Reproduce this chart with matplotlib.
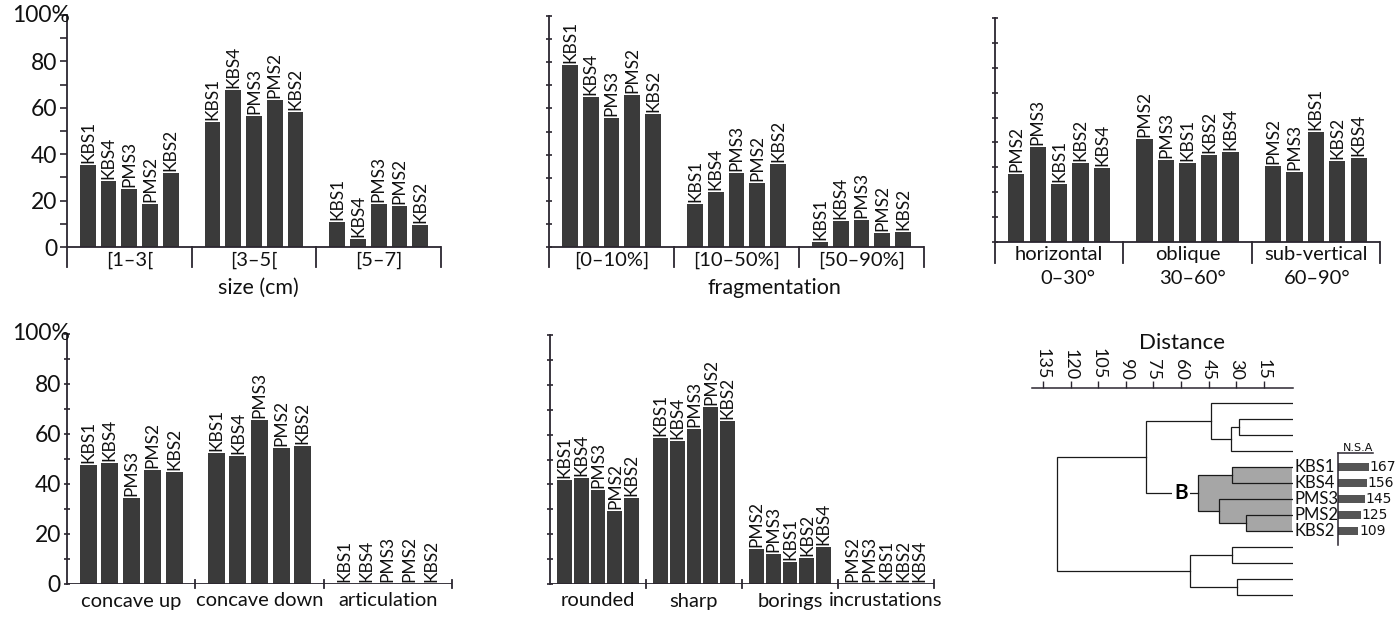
import numpy as np
import matplotlib.pyplot as plt
from matplotlib.patches import Rectangle

plt.rcParams['font.family'] = ['Lato', 'DejaVu Sans']

W, H = 1397, 617
INK = '#2b2630'
BAR = '#3a3a3a'

# ---- data -------------------------------------------------------------
size_groups = ['[1–3[', '[3–5[', '[5–7]']
size_names = ['KBS1', 'KBS4', 'PMS3', 'PMS2', 'KBS2']
size_vals = [[35.3, 28.5, 25.0, 18.7, 31.8],
             [53.7, 67.6, 56.3, 63.3, 58.0],
             [10.9, 3.3, 18.4, 17.6, 9.6]]

frag_groups = ['[0–10%]', '[10–50%]', '[50–90%]']
frag_names = ['KBS1', 'KBS4', 'PMS3', 'PMS2', 'KBS2']
frag_vals = [[79.0, 65.0, 55.7, 65.6, 57.7],
             [18.8, 23.7, 32.2, 27.8, 35.8],
             [2.2, 11.4, 11.7, 6.0, 6.3]]

dip_groups = ['horizontal', 'oblique', 'sub-vertical']
dip_ranges = ['0–30°', '30–60°', '60–90°']
dip_names = ['PMS2', 'PMS3', 'KBS1', 'KBS2', 'KBS4']
dip_vals = [[27.4, 38.2, 23.4, 31.7, 29.7],
            [41.4, 32.8, 31.7, 35.1, 36.0],
            [30.4, 28.2, 44.0, 32.5, 33.6]]

shape_groups = ['concave up', 'concave down', 'articulation']
shape_names = ['KBS1', 'KBS4', 'PMS3', 'PMS2', 'KBS2']
shape_vals = [[47.6, 48.5, 34.3, 45.6, 44.7],
              [52.5, 51.3, 65.6, 54.4, 55.3],
              [0, 0, 0, 0, 0]]

edge_groups = ['rounded', 'sharp', 'borings', 'incrustations']
edge_names = [['KBS1', 'KBS4', 'PMS3', 'PMS2', 'KBS2'],
              ['KBS1', 'KBS4', 'PMS3', 'PMS2', 'KBS2'],
              ['PMS2', 'PMS3', 'KBS1', 'KBS2', 'KBS4'],
              ['PMS2', 'PMS3', 'KBS1', 'KBS2', 'KBS4']]
edge_vals = [[41.6, 42.7, 37.6, 29.2, 34.7],
             [58.6, 57.6, 62.4, 70.9, 65.3],
             [14.2, 11.9, 8.7, 10.6, 14.7],
             [0, 0, 0, 0, 0]]

# dendrogram: leaves 0..12 top to bottom, merges (child a, child b, distance)
leaf_names = ['', '', '', '', 'KBS1', 'KBS4', 'PMS3', 'PMS2', 'KBS2', '', '', '', '']
merges = [(1, 2, 28.4), (13, 3, 33.1), (0, 14, 43.9),
          (4, 5, 32.5), (7, 8, 24.8), (6, 17, 39.4), (16, 18, 50.6),
          (15, 19, 79.2), (9, 10, 32.5), (11, 12, 29.8), (21, 22, 55.2),
          (20, 23, 127.5)]
cluster_b = 19
dist_ticks = [135, 120, 105, 90, 75, 60, 45, 30, 15]

nsa_names = ['KBS1', 'KBS4', 'PMS3', 'PMS2', 'KBS2']
nsa_vals = [167, 156, 145, 125, 109]

# ---- layout helpers -----------------------------------------------------
fig = plt.figure(figsize=(W / 100, H / 100), dpi=100)

TICK_FS = 16.5
CAT_FS = 14.5
BAR_FS = 12.5


def px_axes(left, top, right, bottom):
    return fig.add_axes([left / W, 1 - bottom / H, (right - left) / W, (bottom - top) / H])


def bar_panel(left, right, top, zero, ymax, ext, groups, names, vals, pitch, width,
              ticklabels=False, tickdir='out', lab_off=14, sep=(20, 0)):
    ppu = (zero - top) / ymax
    ax = px_axes(left, top, right, zero + ext)
    n = len(groups)
    ax.set_xlim(-0.5, n - 0.5)
    ax.set_ylim(-ext / ppu, ymax)
    for s in ['top', 'right', 'bottom']:
        ax.spines[s].set_visible(False)
    ax.spines['left'].set_color(INK)
    ax.spines['left'].set_linewidth(1.3)
    ax.axhline(0, color=INK, lw=1.3)
    for g in range(1, n + 1):
        ax.plot([g - 0.5] * 2, [-sep[0] / ppu, sep[1] / ppu], color=INK, lw=1.3,
                clip_on=False)
    ax.set_xticks([])
    ax.set_yticks(np.arange(0, ymax + 1, 10))
    ax.tick_params(axis='y', direction=tickdir, length=5, width=1.2, color=INK,
                   labelsize=TICK_FS, pad=2, labelcolor='#111')
    if ticklabels:
        labs = [str(v) if v % 20 == 0 and v < 100 else '' for v in range(0, ymax + 1, 10)]
        ax.set_yticklabels(labs)
        ax.annotate('100%', (-0.5, 100), xytext=(3, 0), textcoords='offset pixels',
                    ha='right', va='center', fontsize=TICK_FS, color='#111',
                    annotation_clip=False)
    else:
        ax.set_yticklabels([])
    offs = (np.arange(5) - 2) * pitch
    for g in range(n):
        nm = names[g] if isinstance(names[g], list) else names
        ax.bar(g + offs, vals[g], width=width, color=BAR, edgecolor='none')
        for x, v, t in zip(g + offs, vals[g], nm):
            ax.annotate(t, (x, v), xytext=(0, 2), textcoords='offset pixels',
                        rotation=90, ha='center', va='bottom', fontsize=BAR_FS, color='#111')
        ax.annotate(groups[g], (g, 0), xytext=(0, -lab_off), textcoords='offset pixels',
                    ha='center', va='center', fontsize=CAT_FS, color='#111',
                    annotation_clip=False)
    return ax, ppu


def px_to_x(ax_left, ax_right, n, px):
    return (px - ax_left) / (ax_right - ax_left) * n - 0.5


# ---- top row -------------------------------------------------------------
ax1, _ = bar_panel(67, 441, 15, 247, 100, 20, size_groups, size_names, size_vals,
                   0.166, 0.126, ticklabels=True, tickdir='out', lab_off=13)
ax1.annotate('size (cm)', (px_to_x(67, 441, 3, 258), 0), xytext=(0, -41),
             textcoords='offset pixels', ha='center', va='center', fontsize=CAT_FS + 1,
             color='#111', annotation_clip=False)

ax2, _ = bar_panel(549, 924, 16, 247, 100, 20, frag_groups, frag_names, frag_vals,
                   0.166, 0.126, tickdir='inout', lab_off=13)
ax2.annotate('fragmentation', (px_to_x(549, 924, 3, 774), 0), xytext=(0, -41),
             textcoords='offset pixels', ha='center', va='center', fontsize=CAT_FS + 1,
             color='#111', annotation_clip=False)

ax3, _ = bar_panel(995, 1380, 18, 242, 90, 21, dip_groups, dip_names, dip_vals,
                   0.167, 0.127, tickdir='inout', lab_off=13, sep=(21, 0))
for px, t in zip([1068, 1193, 1317], dip_ranges):
    ax3.annotate(t, (px_to_x(995, 1380, 3, px), 0), xytext=(0, -37),
                 textcoords='offset pixels', ha='center', va='center', fontsize=CAT_FS,
                 color='#111', annotation_clip=False)

# ---- bottom row ----------------------------------------------------------
bar_panel(67, 452, 334, 584, 100, 0, shape_groups, shape_names, shape_vals,
          0.168, 0.133, ticklabels=True, tickdir='inout', lab_off=17, sep=(4, 4))
bar_panel(550, 934, 335, 584, 100, 0, edge_groups, edge_names, edge_vals,
          0.176, 0.156, tickdir='inout', lab_off=17, sep=(4, 4))

# ---- dendrogram ------------------------------------------------------------
ppd = 1.842
zero_px = 1291.6
axd = px_axes(1032, 388, 1293, 600)
axd.set_xlim((zero_px - 1032) / ppd, (zero_px - 1293) / ppd)
axd.set_ylim((600 - 403) / 16, -(403 - 388) / 16)
for s in ['right', 'bottom', 'left']:
    axd.spines[s].set_visible(False)
axd.spines['top'].set_color(INK)
axd.spines['top'].set_linewidth(1.1)
axd.xaxis.tick_top()
axd.set_xticks(dist_ticks)
axd.set_xticklabels([str(t) for t in dist_ticks], rotation=270)
axd.tick_params(axis='x', direction='out', length=5, width=1, color=INK,
                labelsize=13, pad=1, labelcolor='#111')
axd.set_yticks([])

n_leaves = len(leaf_names)
node_y = {i: float(i) for i in range(n_leaves)}
node_h = {i: 0.0 for i in range(n_leaves)}
children = {}
for k, (a, b, h) in enumerate(merges):
    nid = n_leaves + k
    children[nid] = (a, b)
    ya, yb = node_y[a], node_y[b]
    axd.plot([node_h[a], h, h, node_h[b]], [ya, ya, yb, yb], color='#1a1a1a', lw=0.9,
             zorder=3, solid_joinstyle='miter')
    node_y[nid] = (ya + yb) / 2
    node_h[nid] = h


def subtree(n):
    if n not in children:
        return []
    a, b = children[n]
    return [n] + subtree(a) + subtree(b)


for n in subtree(cluster_b):
    a, b = children[n]
    axd.add_patch(Rectangle((0, node_y[a]), node_h[n], node_y[b] - node_y[a],
                            facecolor='#a6a6a6', edgecolor='none', zorder=1))

for i, nm in enumerate(leaf_names):
    if nm:
        axd.annotate(nm, (0, i), xytext=(3, 0), textcoords='offset pixels',
                     ha='left', va='center', fontsize=12, color='#111',
                     annotation_clip=False)

b_parent = [n for n, c in children.items() if cluster_b in c][0]
axd.text((node_h[cluster_b] + node_h[b_parent]) / 2 - 5, node_y[cluster_b], 'B',
         fontsize=15, fontweight='bold', ha='center', va='center', zorder=4,
         bbox=dict(facecolor='white', edgecolor='none', pad=1.5))

fig.text(1182 / W, 1 - 343 / H, 'Distance', ha='center', va='center', fontsize=16,
         color='#111')

# ---- N.S.A bars ------------------------------------------------------------
narrow = ['Liberation Sans Narrow', 'DejaVu Sans']
nsa_ppu = 0.1833
axn = px_axes(1338, 453, 1373, 545)
axn.set_xlim(0, 35 / nsa_ppu)
axn.set_ylim(4.875, -0.875)
for s in ['right', 'bottom']:
    axn.spines[s].set_visible(False)
for s in ['top', 'left']:
    axn.spines[s].set_color(INK)
    axn.spines[s].set_linewidth(1.1)
axn.set_xticks([])
axn.set_yticks([])
axn.barh(np.arange(len(nsa_vals)), nsa_vals, height=0.45, color='#555555')
for k, v in enumerate(nsa_vals):
    axn.annotate(str(v), (v, k), xytext=(1, 0), textcoords='offset pixels',
                 ha='left', va='center', fontsize=10, family=narrow, color='#111',
                 annotation_clip=False)
axn.text(0.57, 1.0, 'N.S.A', transform=axn.transAxes, ha='center', va='bottom',
         fontsize=8, family=narrow, color='#111')

fig.savefig('out.png', dpi=100)
